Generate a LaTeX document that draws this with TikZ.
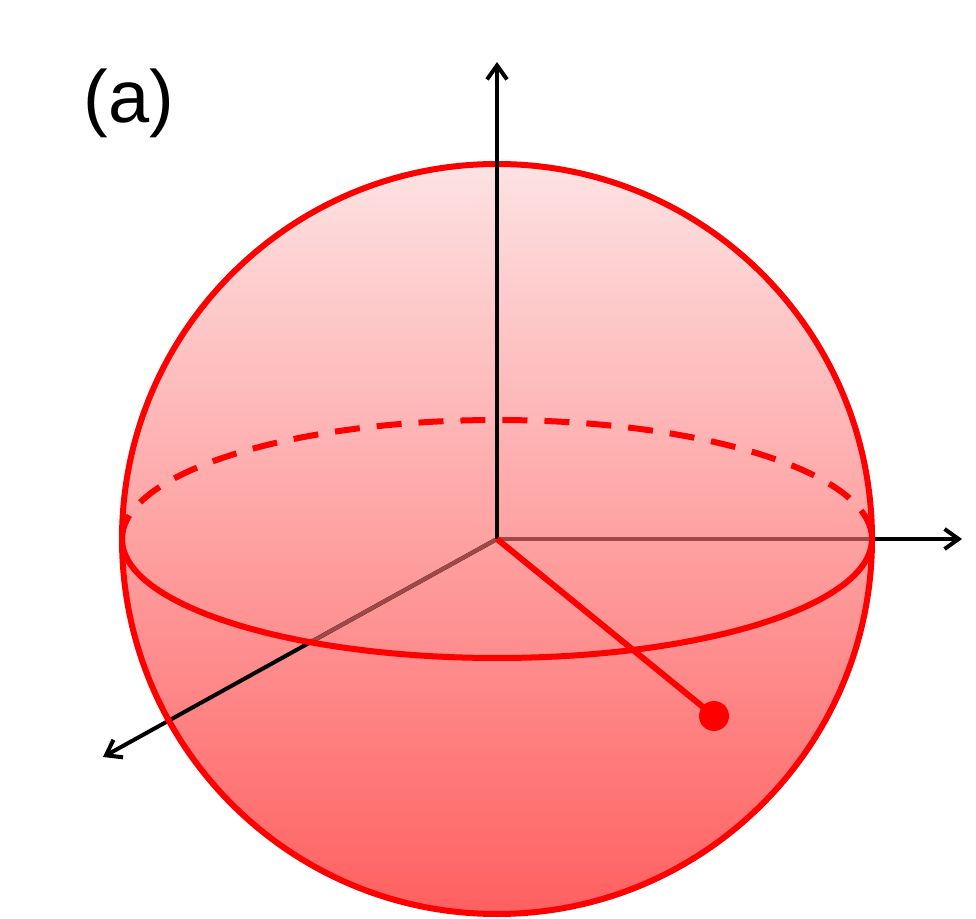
\documentclass[tikz,border=0pt]{standalone}
\usepackage{fontspec}
\setmainfont{Liberation Sans}
\usetikzlibrary{arrows.meta}
\definecolor{spheretop}{RGB}{253,226,227}
\definecolor{spherebot}{RGB}{255,96,96}
\definecolor{axisbrown}{RGB}{158,72,72}
\definecolor{pure}{RGB}{255,0,0}
\tikzset{
  axis/.style={line width=4pt, black, -{Straight Barb[length=14pt,width=20pt,line width=4pt]}},
  axisin/.style={line width=4pt, axisbrown},
  redline/.style={line width=6pt, pure},
  backarc/.style={line width=6pt, pure, dash pattern=on 25pt off 17pt},
}
\begin{document}
\begin{tikzpicture}[x=1pt,y=1pt]
\useasboundingbox (0,0) rectangle (976,918);
\coordinate (C) at (497,379);
\coordinate (Xend) at (962,379);
\coordinate (Yend) at (103,161);
\coordinate (Zend) at (497,856);
\coordinate (P) at (714,202);
% sphere fill
\shade[top color=spheretop, bottom color=spherebot] (C) circle[radius=375];
% in-plane axes
\draw[axis] (C) -- (Xend);
\draw[axis] (C) -- (Yend);
\begin{scope}
  \clip (C) ellipse[x radius=375, y radius=119];
  \draw[axisin] (C) -- (Xend);
  \draw[axisin] (C) -- (Yend);
\end{scope}
% equator
\draw[backarc] (122,379) arc[start angle=180, end angle=0, x radius=375, y radius=119];
\draw[redline] (872,379) arc[start angle=0, end angle=-180, x radius=375, y radius=119];
% sphere outline
\draw[redline] (C) circle[radius=375];
% vertical axis
\draw[axis] (C) -- (Zend);
% state vector
\draw[redline] (C) -- (P);
\node[circle, fill=pure, minimum size=30pt, inner sep=0pt] (dot) at (P) {};
% label
\node (lab) at (129,815) {\fontsize{74}{88}\selectfont (a)};
\end{tikzpicture}
\end{document}
